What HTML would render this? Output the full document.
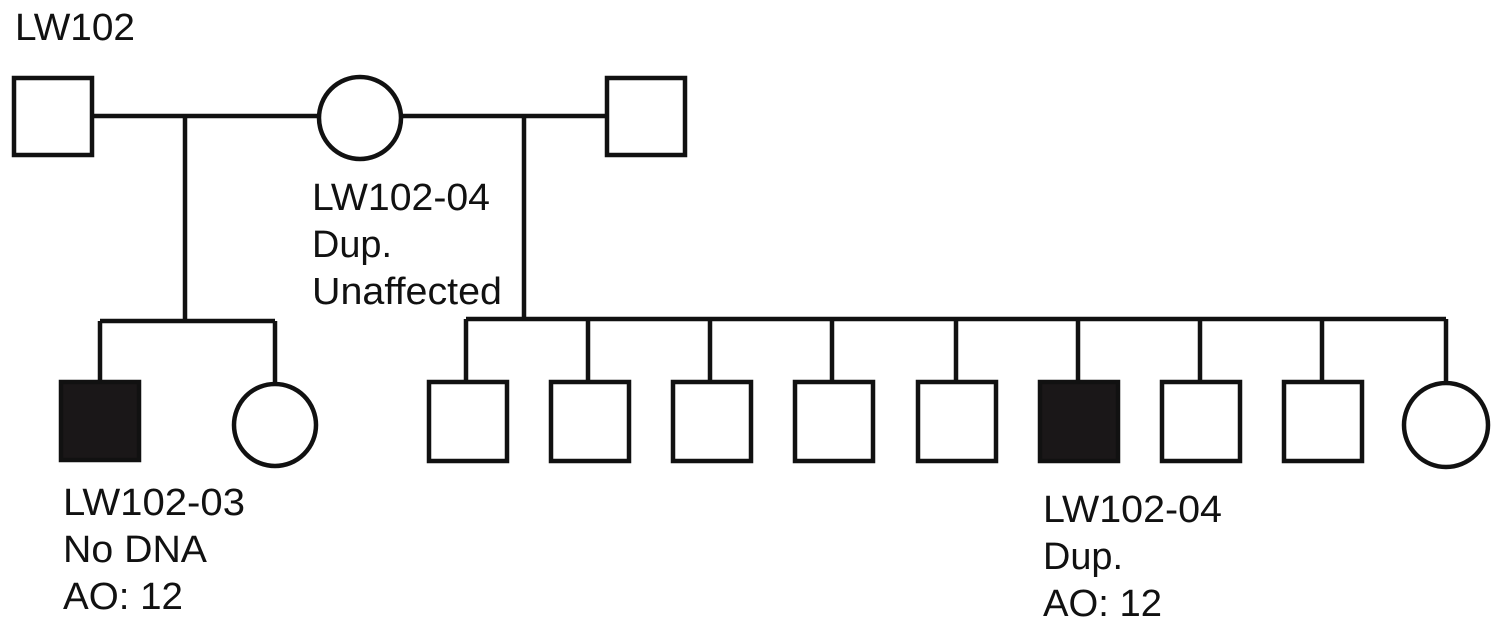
<!DOCTYPE html>
<html><head><style>html,body{margin:0;padding:0;background:#fff;width:1500px;height:625px;overflow:hidden}</style></head>
<body>
<svg width="1500" height="625" xmlns="http://www.w3.org/2000/svg" font-family="Liberation Sans, Arial, sans-serif" font-size="38" fill="#111">
<g stroke="#111" stroke-width="4.5" fill="none">
<line x1="92" y1="116" x2="318" y2="116"/>
<line x1="402" y1="116" x2="606" y2="116"/>
<rect x="14" y="78" width="78" height="77" fill="#fff"/>
<circle cx="360" cy="118" r="41" fill="#fff"/>
<rect x="607" y="78" width="78" height="77" fill="#fff"/>
<line x1="185" y1="116" x2="185" y2="321"/>
<line x1="100" y1="321" x2="275" y2="321"/>
<line x1="100" y1="321" x2="100" y2="382"/>
<line x1="275" y1="321" x2="275" y2="384"/>
<rect x="61" y="382" width="78" height="78" fill="#1a1718"/>
<circle cx="275" cy="425" r="41" fill="#fff"/>
<line x1="524" y1="116" x2="524" y2="319"/>
<line x1="466" y1="319" x2="1446" y2="319"/>
<line x1="466" y1="319" x2="466" y2="382"/>
<line x1="588" y1="319" x2="588" y2="382"/>
<line x1="710" y1="319" x2="710" y2="382"/>
<line x1="832" y1="319" x2="832" y2="382"/>
<line x1="956" y1="319" x2="956" y2="382"/>
<line x1="1078" y1="319" x2="1078" y2="382"/>
<line x1="1200" y1="319" x2="1200" y2="382"/>
<line x1="1322" y1="319" x2="1322" y2="382"/>
<line x1="1446" y1="319" x2="1446" y2="384"/>
<rect x="429" y="382" width="78" height="79" fill="#fff"/>
<rect x="551" y="382" width="78" height="79" fill="#fff"/>
<rect x="673" y="382" width="78" height="79" fill="#fff"/>
<rect x="795" y="382" width="78" height="79" fill="#fff"/>
<rect x="918" y="382" width="78" height="79" fill="#fff"/>
<rect x="1040" y="382" width="78" height="79" fill="#1a1718"/>
<rect x="1162" y="382" width="78" height="79" fill="#fff"/>
<rect x="1284" y="382" width="78" height="79" fill="#fff"/>
<circle cx="1446" cy="425" r="42" fill="#fff"/>
</g>
<text x="15" y="40" textLength="120" lengthAdjust="spacingAndGlyphs">LW102</text>
<text x="312" y="210" textLength="178" lengthAdjust="spacingAndGlyphs">LW102-04</text>
<text x="312" y="257" textLength="80" lengthAdjust="spacingAndGlyphs">Dup.</text>
<text x="312" y="304" textLength="190" lengthAdjust="spacingAndGlyphs">Unaffected</text>
<text x="63" y="515" textLength="182" lengthAdjust="spacingAndGlyphs">LW102-03</text>
<text x="63" y="562" textLength="144" lengthAdjust="spacingAndGlyphs">No DNA</text>
<text x="63" y="609" textLength="120" lengthAdjust="spacingAndGlyphs">AO: 12</text>
<text x="1043" y="522" textLength="179" lengthAdjust="spacingAndGlyphs">LW102-04</text>
<text x="1043" y="569" textLength="80" lengthAdjust="spacingAndGlyphs">Dup.</text>
<text x="1043" y="616" textLength="119" lengthAdjust="spacingAndGlyphs">AO: 12</text>
</svg>
</body></html>
